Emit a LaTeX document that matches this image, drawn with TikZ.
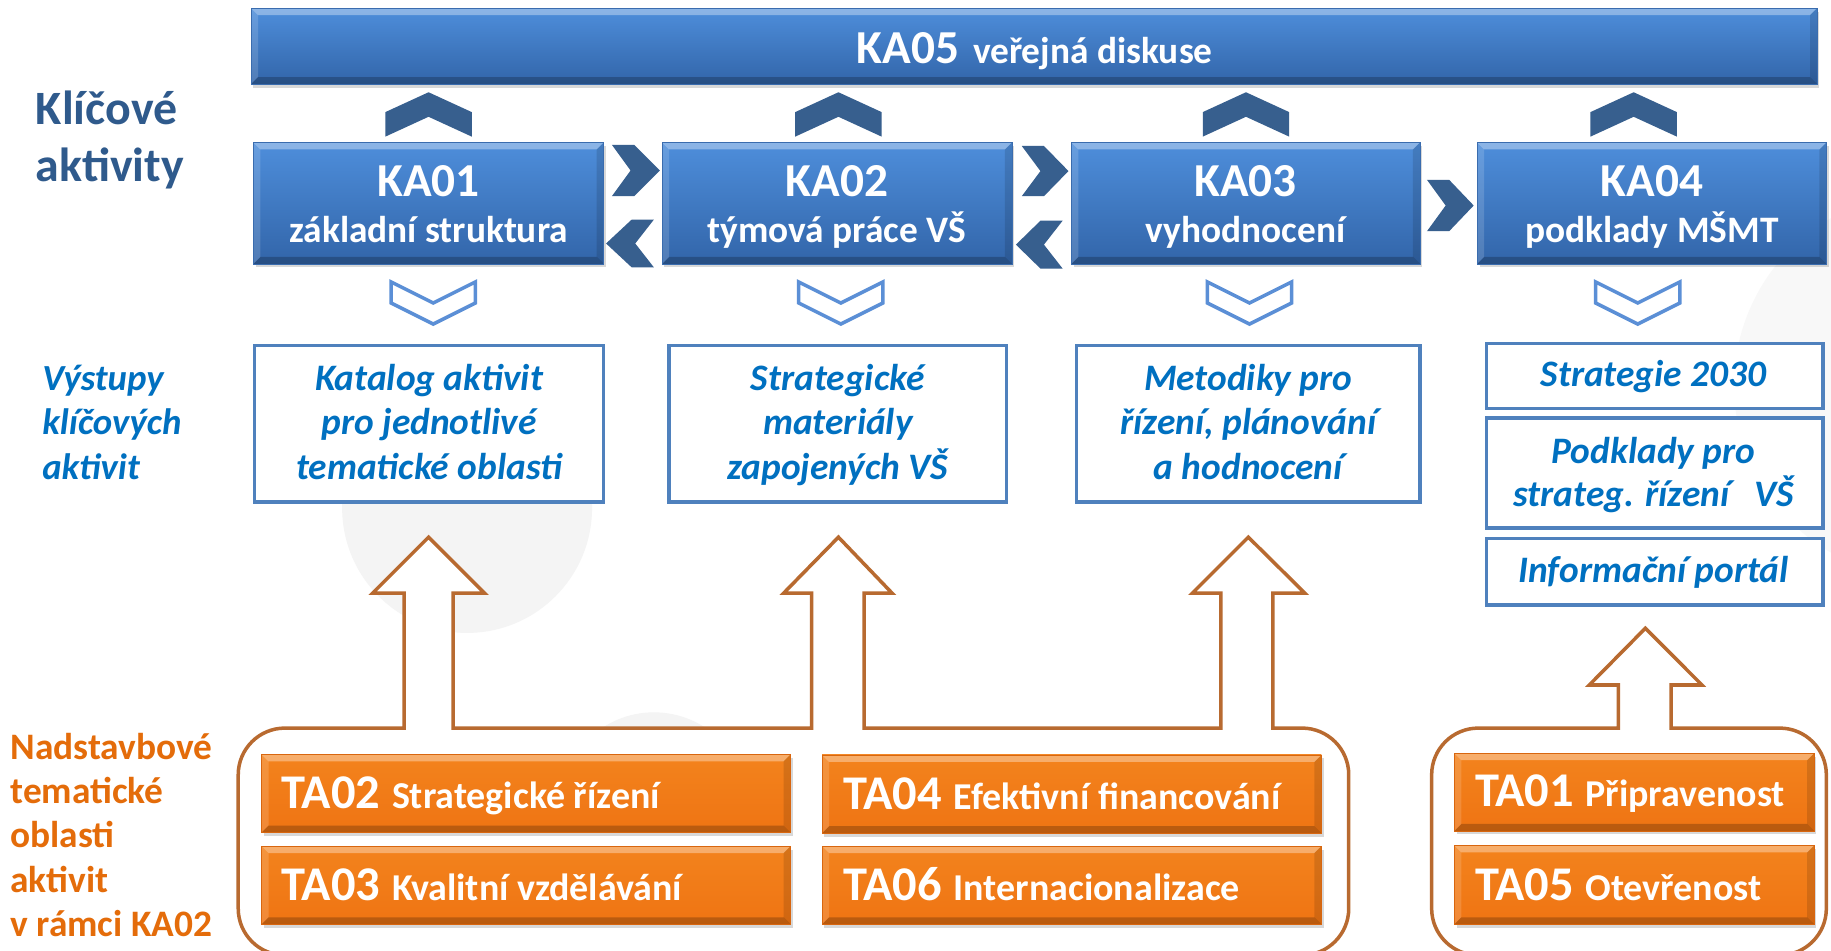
\documentclass[tikz,border=0pt]{standalone}
\usepackage{fontspec}
\setmainfont{Carlito}
\usetikzlibrary{shadows,fit}
\definecolor{kaTop}{HTML}{4E8EDB}
\definecolor{kaBot}{HTML}{3265A9}
\definecolor{kaEdge}{HTML}{3A6CAE}
\definecolor{chev}{HTML}{375F8E}
\definecolor{chevLight}{HTML}{5B8FD6}
\definecolor{outBorder}{HTML}{4F81BD}
\definecolor{outText}{HTML}{0070C0}
\definecolor{titleBlue}{HTML}{2F5A8C}
\definecolor{taFill}{HTML}{EF7413}
\definecolor{taTop}{HTML}{F3831D}
\definecolor{taEdge}{HTML}{D8660F}
\definecolor{arrowOr}{HTML}{B86A30}
\definecolor{labelOr}{HTML}{E46C0A}
\definecolor{bgGray}{HTML}{F4F4F4}
\definecolor{bgGrayL}{HTML}{F8F8F8}
\newcommand\mlinesc[2]{\vtop{\baselineskip=#1\lineskiplimit=-100pt\lineskip=0pt\halign{\hfil##\hfil\cr#2\crcr}}}
\newcommand\mlinesl[2]{\vtop{\baselineskip=#1\lineskiplimit=-100pt\lineskip=0pt\halign{##\hfil\cr#2\crcr}}}
\tikzset{
  bevel/.style={path picture={
    \fill[white,opacity=.35] (path picture bounding box.north west) -- (path picture bounding box.north east) -- ([xshift=-#1,yshift=-#1]path picture bounding box.north east) -- ([xshift=#1,yshift=-#1]path picture bounding box.north west) -- cycle;
    \fill[white,opacity=.15] (path picture bounding box.north west) -- ([xshift=#1,yshift=-#1]path picture bounding box.north west) -- ([xshift=#1,yshift=#1]path picture bounding box.south west) -- (path picture bounding box.south west) -- cycle;
    \fill[black,opacity=.12] (path picture bounding box.north east) -- ([xshift=-#1,yshift=-#1]path picture bounding box.north east) -- ([xshift=-#1,yshift=#1]path picture bounding box.south east) -- (path picture bounding box.south east) -- cycle;
    \fill[black,opacity=.22] (path picture bounding box.south west) -- ([xshift=#1,yshift=#1]path picture bounding box.south west) -- ([xshift=-#1,yshift=#1]path picture bounding box.south east) -- (path picture bounding box.south east) -- cycle;
  }},
  kabox/.style={draw=kaEdge, line width=0.6pt, top color=kaTop, bottom color=kaBot, inner sep=0pt,
    drop shadow={shadow xshift=2pt, shadow yshift=-3pt, opacity=.3}, bevel=6pt},
  tabox/.style={draw=taEdge, line width=0.6pt, top color=taTop, bottom color=taFill, inner sep=0pt,
    drop shadow={shadow xshift=2pt, shadow yshift=-3pt, opacity=.3}, bevel=6pt},
  outbox/.style={draw=outBorder, line width=3pt, fill=white, inner sep=0pt},
  katitle/.style={text=white, font=\bfseries\fontsize{40.5}{40}\selectfont, inner sep=0pt, anchor=base},
  kasub/.style={text=white, font=\bfseries\fontsize{32}{32}\selectfont, inner sep=0pt, anchor=base},
  outtxt/.style={text=outText, font=\bfseries\itshape\fontsize{32}{38}\selectfont, inner sep=0pt, anchor=base},
  tatxt/.style={text=white, inner sep=0pt, anchor=base west},
  chevup/.style={fill=chev},
  chevdown/.style={draw=chevLight, line width=3pt, fill=white, line join=miter},
  grp/.style={draw=arrowOr, line width=3pt, fill=white, line join=miter},
}
\newcommand\tabig[1]{{\fontsize{41.5}{40}\selectfont #1}}
\newcommand\tasmall[1]{{\fontsize{32.5}{31}\selectfont #1}}
\begin{document}
\begin{tikzpicture}[x=1pt,y=-1pt]
\useasboundingbox (0,0) rectangle (1568,814);
\fill[white] (0,0) rectangle (1568,814);
% faint background circles
\fill[bgGray] (400,435) circle (107);
\fill[bgGray] (560,690) circle (80);
\fill[bgGrayL] (1650,330) circle (165);

% orange group outlines with hollow arrows
\draw[grp] (204,778) -- (204,663.5) .. controls (204,641.4) and (221.9,623.5) .. (244,623.5)
  -- (346,623.5) -- (346,508) -- (319,508) -- (367,460) -- (415,508) -- (388,508) -- (388,623.5)
  -- (695,623.5) -- (695,508) -- (671,508) -- (718,460) -- (764,508) -- (740,508) -- (740,623.5)
  -- (1045.5,623.5) -- (1045.5,508) -- (1021,508) -- (1069,460) -- (1117.5,508) -- (1090,508) -- (1090,623.5)
  -- (1115,623.5) .. controls (1137.1,623.5) and (1155,641.4) .. (1155,663.5)
  -- (1155,778) .. controls (1155,800.1) and (1137.1,818) .. (1115,818)
  -- (244,818) .. controls (221.9,818) and (204,800.1) .. (204,778) -- cycle;
\draw[grp] (1226,778) -- (1226,663.5) .. controls (1226,641.4) and (1243.9,623.5) .. (1266,623.5)
  -- (1386,623.5) -- (1386,586.6) -- (1361,586.6) -- (1409,538) -- (1457.5,586.6) -- (1431,586.6) -- (1431,623.5)
  -- (1524,623.5) .. controls (1546.1,623.5) and (1564,641.4) .. (1564,663.5)
  -- (1564,778) .. controls (1564,800.1) and (1546.1,818) .. (1524,818)
  -- (1266,818) .. controls (1243.9,818) and (1226,800.1) .. (1226,778) -- cycle;

% top bar
\node[kabox, fit={(215,7) (1556,72)}] (ka5) {};
\node[katitle] (ka5t) at (886,54) {KA05\hspace{12pt}{\fontsize{32}{32}\selectfont veřejná diskuse}};

% key activity boxes
\node[kabox, fit={(217,122) (517,226)}] (ka1) {};
\node[kabox, fit={(567,122) (866.5,226)}] (ka2) {};
\node[kabox, fit={(917.5,122) (1216,226)}] (ka3) {};
\node[kabox, fit={(1265,122) (1564,226)}] (ka4) {};
\node[katitle] (ka1t) at (367,168.5) {KA01};
\node[kasub]   (ka1s) at (367,208) {základní struktura};
\node[katitle] (ka2t) at (716.7,168.5) {KA02};
\node[kasub]   (ka2s) at (716.7,208) {týmová práce VŠ};
\node[katitle] (ka3t) at (1066.7,168.5) {KA03};
\node[kasub]   (ka3s) at (1066.7,208) {vyhodnocení};
\node[katitle] (ka4t) at (1414.5,168.5) {KA04};
\node[kasub]   (ka4s) at (1414.5,208) {podklady MŠMT};

% up chevrons
\foreach \cx in {367,718,1067,1399}{
  \fill[chevup, shift={(\cx,0)}] (-37,117) -- (-37,96) -- (0,79) -- (37,96) -- (37,117) -- (0,100) -- cycle;
}
% right / left chevrons
\fill[chevup, shift={(524,124)}] (0,0) -- (19,0) -- (41,22) -- (19,44) -- (0,44) -- (16,22) -- cycle;
\fill[chevup, shift={(519,188)}] (41,0) -- (22,0) -- (0,20.5) -- (22,41) -- (41,41) -- (25,20.5) -- cycle;
\fill[chevup, shift={(875,125)}] (0,0) -- (19,0) -- (40,21.5) -- (19,43) -- (0,43) -- (16,21.5) -- cycle;
\fill[chevup, shift={(870,189)}] (40,0) -- (21,0) -- (0,20.5) -- (21,41) -- (40,41) -- (24,20.5) -- cycle;
\fill[chevup, shift={(1222,154)}] (0,0) -- (19,0) -- (40,22) -- (19,44) -- (0,44) -- (16,22) -- cycle;

% down chevrons (outlined)
\foreach \cx in {371,720,1070,1402.5}{
  \draw[chevdown, shift={(\cx,241.5)}] (-36,0) -- (-36,18) -- (0,36) -- (36,18) -- (36,0) -- (0,18) -- cycle;
}

% output boxes
\node[outbox, fit={(218,296) (517,430)}] (o1) {};
\node[outbox, fit={(573,296) (862,430)}] (o2) {};
\node[outbox, fit={(922,296) (1216,430)}] (o3) {};
\node[outbox, fit={(1273,294) (1561,350)}] (o4a) {};
\node[outbox, fit={(1273,358) (1561,452)}] (o4b) {};
\node[outbox, fit={(1273,461) (1561,518)}] (o4c) {};
\node[outtxt] (o1t) at (367.5,334.5) {\mlinesc{38pt}{Katalog aktivit\cr pro jednotlivé\cr tematické oblasti}};
\node[outtxt] (o2t) at (717.5,334.5) {\mlinesc{38pt}{Strategické\cr materiály\cr zapojených VŠ}};
\node[outtxt] (o3t) at (1069,334.5) {\mlinesc{38pt}{Metodiky pro\cr řízení, plánování\cr a hodnocení}};
\node[outtxt] (o4at) at (1416,331) {Strategie 2030};
\node[outtxt] (o4bt) at (1416,396.5) {\mlinesc{37.5pt}{Podklady pro\cr strateg. řízení\hspace{0.45em} VŠ}};
\node[outtxt] (o4ct) at (1416,499) {Informační portál};

% TA boxes
\node[tabox, fit={(224,646) (677,713)}] (ta2) {};
\node[tabox, fit={(224,724.5) (677,791.5)}] (ta3) {};
\node[tabox, fit={(704,646.5) (1131.5,713.5)}] (ta4) {};
\node[tabox, fit={(704,724.5) (1131.5,791.5)}] (ta6) {};
\node[tabox, fit={(1245.5,645) (1553.5,711.5)}] (ta1) {};
\node[tabox, fit={(1245.5,724) (1553.5,791.5)}] (ta5) {};
\node[tatxt, font=\bfseries] (ta2t) at (241,692) {\tabig{TA02}\hspace{10pt}\tasmall{Strategické řízení}};
\node[tatxt, font=\bfseries] (ta3t) at (241,771) {\tabig{TA03}\hspace{10pt}\tasmall{Kvalitní vzdělávání}};
\node[tatxt, font=\bfseries] (ta4t) at (722,693) {\tabig{TA04}\hspace{10pt}\tasmall{Efektivní financování}};
\node[tatxt, font=\bfseries] (ta6t) at (722,771) {\tabig{TA06}\hspace{10pt}\tasmall{Internacionalizace}};
\node[tatxt, font=\bfseries] (ta1t) at (1263,691) {\tabig{TA01}\hspace{10pt}\tasmall{Připravenost}};
\node[tatxt, font=\bfseries] (ta5t) at (1263,771) {\tabig{TA05}\hspace{10pt}\tasmall{Otevřenost}};

% left labels
\node[anchor=base west, inner sep=0pt, text=titleBlue, font=\bfseries\fontsize{41}{48}\selectfont] (lab1) at (30.5,107) {\mlinesl{48.5pt}{Klíčové\cr aktivity}};
\node[anchor=base west, inner sep=0pt, text=outText, font=\bfseries\itshape\fontsize{31.5}{38}\selectfont] (lab2) at (36,334.5) {\mlinesl{38pt}{Výstupy\cr klíčových\cr aktivit}};
\node[anchor=base west, inner sep=0pt, text=labelOr, font=\bfseries\fontsize{32}{38}\selectfont] (lab3) at (8.8,650) {\mlinesl{38pt}{Nadstavbové\cr tematické\cr oblasti\cr aktivit\cr v rámci KA02}};
\end{tikzpicture}
\end{document}
